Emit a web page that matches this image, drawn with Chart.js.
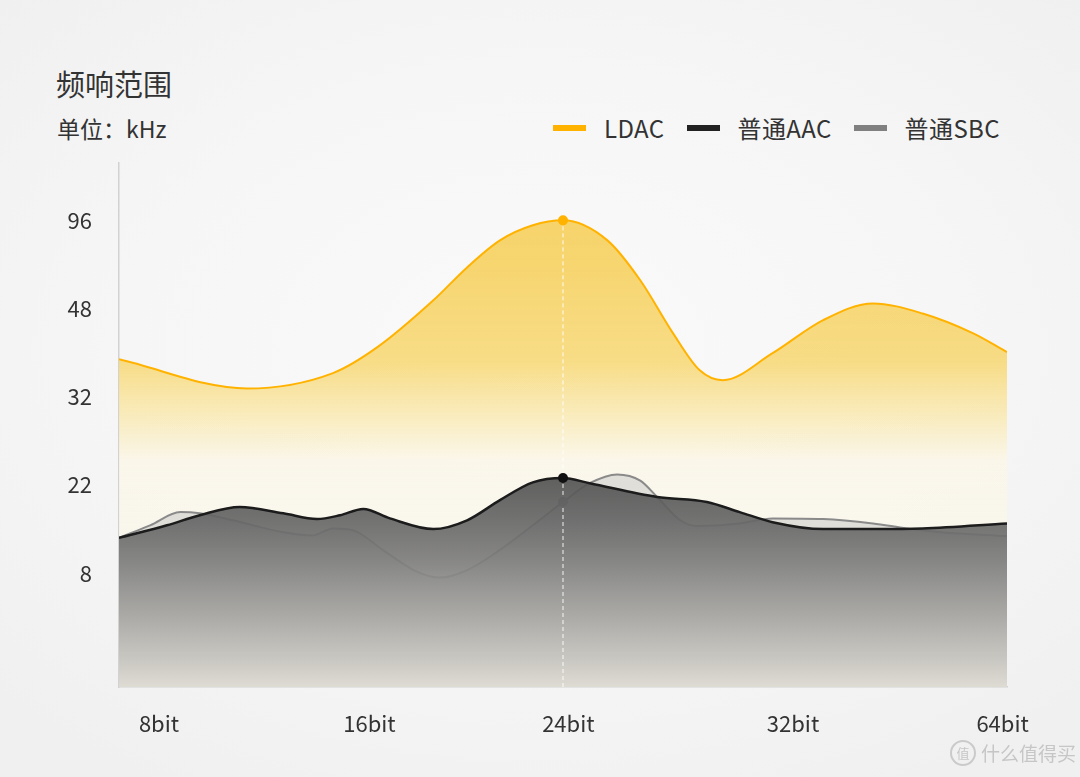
<!DOCTYPE html>
<html>
<head>
<meta charset="utf-8">
<script src="https://cdn.jsdelivr.net/npm/chart.js@4"></script>
<style>
html,body{margin:0;padding:0}
body{
width:1080px;height:777px;overflow:hidden;position:relative;
font-family:"Noto Sans CJK SC","Noto Sans",sans-serif;
background:radial-gradient(ellipse 70% 65% at 50% 45%,#fafafa 0%,#f6f6f6 55%,#f0f0f0 100%);
color:#333;
}
#title{position:absolute;left:56px;top:66px;font-size:29px;line-height:34px;color:#333}
#unit{position:absolute;left:57px;top:114px;font-size:23px;line-height:28px;color:#333}
#legend{position:absolute;right:80px;top:113px;display:flex;align-items:center;font-size:24px;line-height:30px;letter-spacing:0.4px;color:#333;white-space:nowrap}
#legend .item{display:flex;align-items:center;margin-left:22px}
#legend .sw{width:33px;height:6px;margin-right:18px}
#mark{position:absolute;left:950px;top:739px;display:flex;align-items:center;color:#c6c6c6;font-size:19px;white-space:nowrap}
#mark .c{display:inline-block;width:22px;height:22px;border:2px solid #cacaca;border-radius:50%;font-size:13px;line-height:22px;text-align:center;margin-right:5px}
canvas{position:absolute;left:0;top:0}
</style>
</head>
<body>
<div id="title">频响范围</div>
<div id="unit">单位：kHz</div>
<div id="legend"></div>
<canvas id="freqChart" width="1080" height="777"></canvas>
<div id="mark"><span class="c">值</span>什么值得买</div>
<script>

// x axis: position along the axis (0..100), tick labels
const xLabels = ["8bit","16bit","24bit","32bit","64bit"]
const xTickPos = [4.5,28.2,50.6,75.9,99.5]
const highlightX = 50

// y axis: evenly spaced ticks in kHz
const yTickKHz = [8,22,32,48,96]
const yTickLabels = ["8","22","32","48","96"]

const ldacX = [0,14.4,24.1,29.1,35.4,39.2,42.9,46.6,50,55.0,58.7,62.4,65.4,68.0,73.6,79.3,84.9,90.5,96.2,100]
const ldacKHz = [38.8,33.5,36.3,41.0,52.5,70.4,85.1,93.3,96,85.1,63.4,43.5,36.8,35.0,39.9,45.9,50.8,47.1,43.5,40.1]

const aacX = [0,5.4,9.1,13.6,18.5,22.3,24.9,27.5,30.5,35.4,39.2,42.9,46.6,50,53.0,60.6,66.2,69.9,73.6,79.3,84.9,90.5,100]
const aacKHz = [13.6,15.6,17.2,18.5,17.5,16.6,17.2,18.2,16.7,15.0,16.4,19.6,22.3,22.8,22.2,20.1,19.3,17.7,16.1,15.0,15.0,15.1,15.9]

const sbcX = [0,3.5,6.9,9.1,12.8,18.5,21.8,24.1,26.4,29.7,33.6,36.1,39.2,42.9,46.6,50,53.0,56.1,58.7,60.6,63.2,65.1,69.9,73.6,79.3,84.9,88.7,92.5,100]
const sbcKHz = [13.6,15.6,17.7,17.5,16.4,14.5,14.0,15.1,14.8,11.7,8.2,7.6,8.5,11.7,15.6,19.3,22.2,23.2,22.5,20.1,16.4,15.5,15.9,16.7,16.6,15.9,15.1,14.5,13.9]

// map kHz onto the evenly spaced tick positions 1..5
function pos(v){
  if(v <= yTickKHz[0]) return v / yTickKHz[0]
  for(let i = 0; i < yTickKHz.length - 1; i++){
    if(v <= yTickKHz[i+1]) return i + 1 + (v - yTickKHz[i]) / (yTickKHz[i+1] - yTickKHz[i])
  }
  return yTickKHz.length
}

function points(xs, ks){
  return xs.map((x,i) => ({x:x, y:pos(ks[i])}))
}

function vGrad(chart, stops){
  const a = chart.chartArea
  if(!a) return null
  const g = chart.ctx.createLinearGradient(0, a.top, 0, a.bottom)
  stops.forEach(s => g.addColorStop(s[0], s[1]))
  return g
}

const dotRadius = c => (c.raw && c.raw.x === highlightX) ? 5 : 0

const guideLine = {
  id:"guideLine",
  afterDatasetsDraw(chart){
    const {ctx, chartArea, scales} = chart
    const px = scales.x.getPixelForValue(highlightX)
    const ys = chart.data.datasets.map((d,i) => {
      const idx = d.data.findIndex(p => p.x === highlightX)
      return chart.getDatasetMeta(i).data[idx].y
    }).sort((a,b) => a - b)
    ys.push(chartArea.bottom + 6)
    ctx.save()
    ctx.strokeStyle = "rgba(255,255,255,0.9)"
    ctx.lineWidth = 1
    ctx.setLineDash([4,3])
    for(let i = 0; i < ys.length - 1; i++){
      ctx.beginPath()
      ctx.moveTo(px, ys[i] + 6)
      ctx.lineTo(px, ys[i+1] - 6)
      ctx.stroke()
    }
    ctx.restore()
  }
}

Chart.defaults.font.family = '"Noto Sans CJK SC","Noto Sans",sans-serif'

const chart = new Chart(
document.getElementById("freqChart"),
{
type:"line",
data:{
datasets:[
{
label:"LDAC",
data:points(ldacX, ldacKHz),
borderColor:"#ffb300",
borderWidth:2,
backgroundColor:c => vGrad(c.chart, [
  [0,"rgba(246,206,92,0.95)"],
  [0.2,"rgba(246,210,100,0.92)"],
  [0.38,"rgba(247,216,118,0.88)"],
  [0.48,"rgba(249,232,172,0.8)"],
  [0.57,"rgba(251,246,230,0.75)"],
  [1,"rgba(250,248,240,0.6)"]
]),
fill:"start",
cubicInterpolationMode:"monotone",
pointRadius:dotRadius,
pointBackgroundColor:"#ffb300",
pointBorderWidth:0,
order:2
},
{
label:"普通AAC",
data:points(aacX, aacKHz),
borderColor:"#1c1c1c",
borderWidth:2.5,
backgroundColor:c => vGrad(c.chart, [
  [0.58,"rgba(78,78,78,0.92)"],
  [0.68,"rgba(102,102,102,0.92)"],
  [0.76,"rgba(126,126,125,0.92)"],
  [0.87,"rgba(168,167,164,0.92)"],
  [1,"rgba(222,219,211,0.95)"]
]),
fill:"start",
cubicInterpolationMode:"monotone",
pointRadius:dotRadius,
pointBackgroundColor:"#111",
pointBorderWidth:0,
order:0
},
{
label:"普通SBC",
data:points(sbcX, sbcKHz),
borderColor:"#8a8a8a",
borderWidth:2,
backgroundColor:"rgba(205,205,203,0.6)",
fill:"start",
cubicInterpolationMode:"monotone",
pointRadius:dotRadius,
pointBackgroundColor:"#9a9a9a",
pointBorderWidth:0,
order:1
}
]
},
options:{
responsive:false,
animation:false,
layout:{
padding:{top:163,right:73,bottom:0,left:0}
},
plugins:{
legend:{display:false},
tooltip:{enabled:false}
},
scales:{
x:{
type:"linear",
min:0,
max:100,
afterFit:s => { s.height = 90 },
afterBuildTicks:s => { s.ticks = xTickPos.map(v => ({value:v})) },
grid:{display:false,drawTicks:false},
border:{display:true,color:"#d2d2d2",width:1.5},
ticks:{
padding:23,
color:"#333",
font:{size:22},
maxRotation:0,
autoSkip:false,
callback:(v,i) => xLabels[i]
}
},
y:{
type:"linear",
min:-0.29,
max:5.65,
afterFit:s => { s.width = 119 },
afterBuildTicks:s => { s.ticks = yTickKHz.map(k => ({value:pos(k)})) },
grid:{display:false,drawTicks:false},
border:{display:true,color:"#d2d2d2",width:1.5},
ticks:{
padding:27,
color:"#333",
font:{size:22},
autoSkip:false,
callback:(v,i) => yTickLabels[i]
}
}
}
},
plugins:[guideLine]
}
)

// legend built from the chart's datasets
const legendEl = document.getElementById("legend")
const legendColors = ["#ffb300","#222222","#808080"]
chart.data.datasets.forEach((d,i) => {
  const item = document.createElement("div")
  item.className = "item"
  const sw = document.createElement("span")
  sw.className = "sw"
  sw.style.background = legendColors[i]
  const tx = document.createElement("span")
  tx.textContent = d.label
  item.appendChild(sw)
  item.appendChild(tx)
  legendEl.appendChild(item)
})

</script>
</body>
</html>
